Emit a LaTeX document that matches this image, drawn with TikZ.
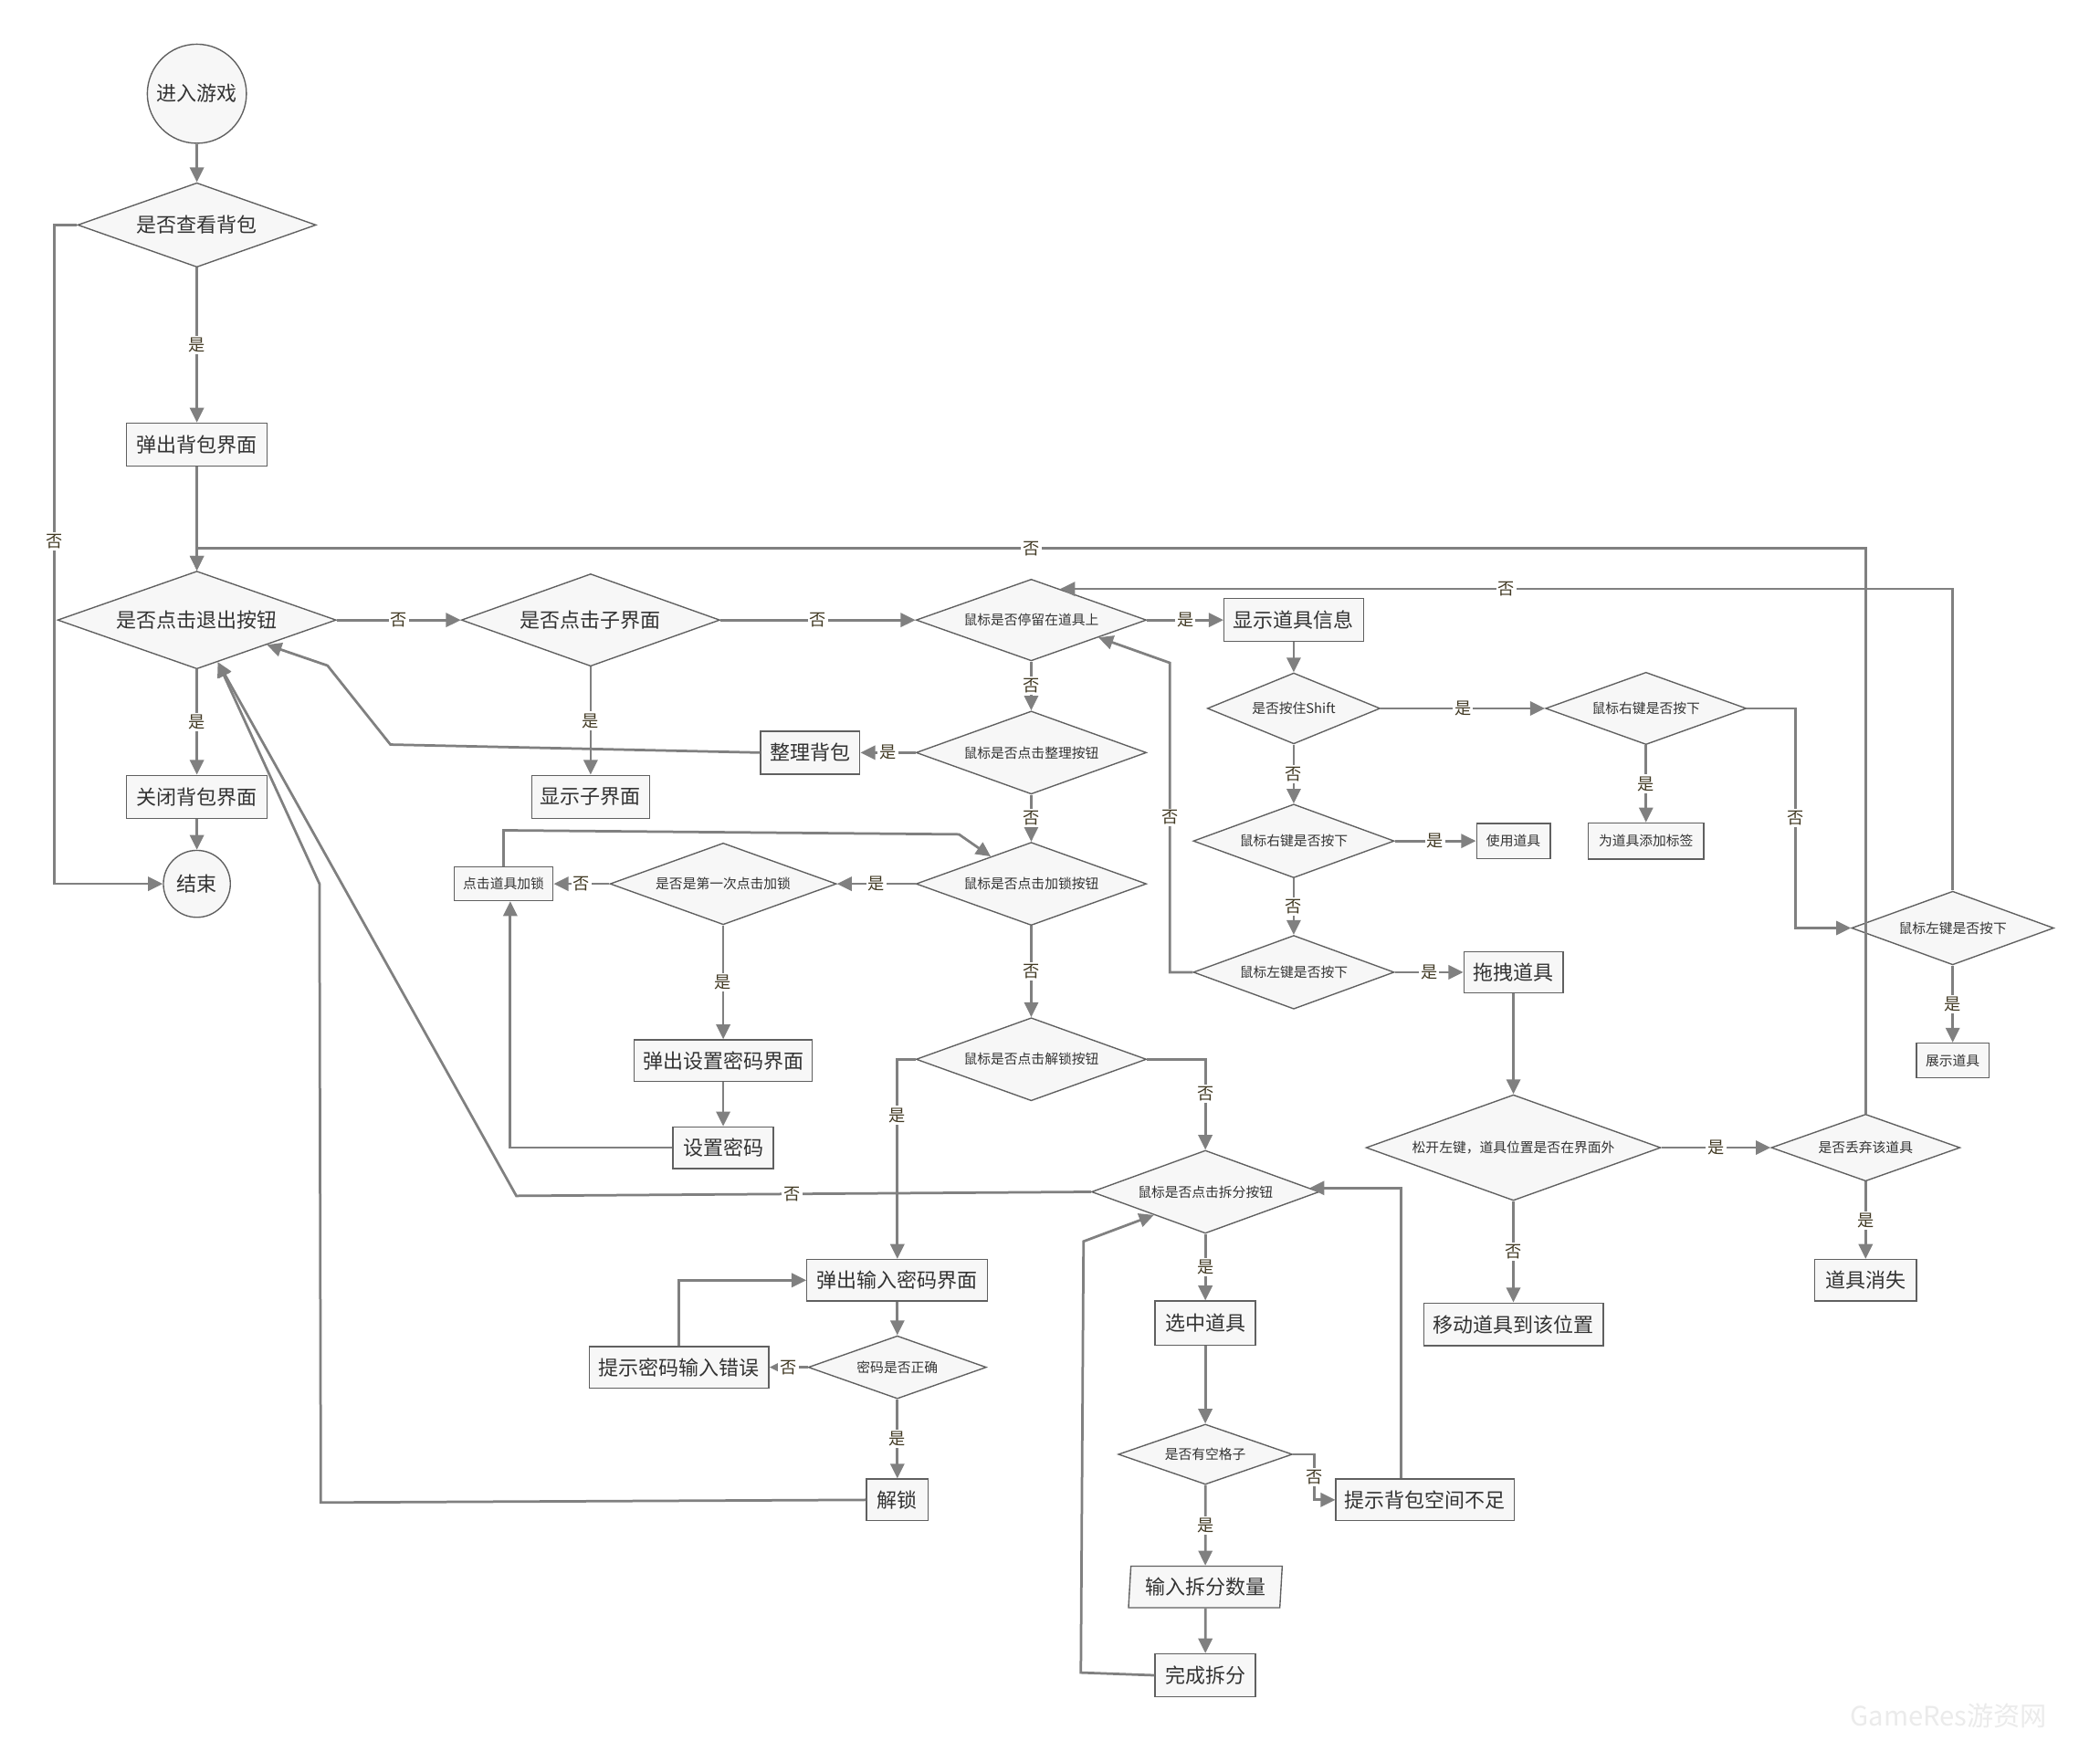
\documentclass[tikz,border=0pt]{standalone}
\usepackage{fontspec}
\setmainfont{Noto Sans CJK SC}
\usepackage{tikz}
\usetikzlibrary{positioning,arrows.meta,calc,shapes.geometric}
\definecolor{boxfill}{RGB}{247,247,247}
\definecolor{boxline}{RGB}{96,96,96}
\definecolor{wire}{RGB}{128,128,128}
\definecolor{txt}{RGB}{51,51,51}
\definecolor{lbltxt}{RGB}{66,58,36}
\newcommand{\bigfont}{\fontsize{12.8}{15}\selectfont}
\newcommand{\smallfont}{\fontsize{8.6}{10}\selectfont}
\newcommand{\lblfont}{\fontsize{10.6}{12}\selectfont}
\tikzset{
  proc/.style ={draw=boxline, fill=boxfill, text=txt, font=\bigfont, inner sep=0pt,
                line width=0.8pt, minimum height=9.3mm},
  sproc/.style={proc, font=\smallfont, minimum height=7.8mm},
  dec/.style  ={diamond, aspect=2.8, draw=boxline, fill=boxfill, text=txt, font=\smallfont,
                inner sep=0pt, line width=0.8pt},
  bdec/.style ={dec, font=\bigfont},
  term/.style ={circle, draw=boxline, fill=boxfill, text=txt, font=\bigfont, inner sep=0pt,
                line width=0.8pt},
  ar/.style   ={-{Triangle[length=3.3mm,width=3.1mm]}, draw=wire, line width=1.6pt},
  yn/.style   ={fill=white, text=lbltxt, font=\lblfont, inner sep=1.2pt},
}

\begin{document}
\begin{tikzpicture}[x=0.3mm,y=-0.3mm]
\fill[white] (0,0) rectangle (1568,1300);
\useasboundingbox (0,0) rectangle (1568,1300);

% open / close the bag
\node[term, minimum size=22.2mm] (start) at (147,70) {进入游戏};
\node[bdec, minimum width=53.4mm, minimum height=18.9mm] (bagq) at (147,168) {是否查看背包};
\node[proc, minimum width=31.5mm, minimum height=9.6mm] (popbag) at (147,332) {弹出背包界面};
\node[bdec, minimum width=62.4mm, minimum height=21.9mm] (exitq) at (147,463) {是否点击退出按钮};
\node[proc, minimum width=31.5mm, minimum height=9.6mm] (closebag) at (147,595) {关闭背包界面};
\node[term, minimum size=15mm] (stop) at (147,660) {结束};
\node[bdec, minimum width=57.9mm, minimum height=20.7mm] (subq) at (441,463) {是否点击子界面};
\node[proc, minimum width=26.4mm, minimum height=9.6mm] (showsub) at (441,595) {显示子界面};

% mouse over the bag
\node[dec, minimum width=51.6mm, minimum height=18.3mm] (hoverq) at (770,463) {鼠标是否停留在道具上};
\node[dec, minimum width=51.6mm, minimum height=18.6mm] (tidyq) at (770,562) {鼠标是否点击整理按钮};
\node[proc, minimum width=22.2mm, minimum height=9.6mm] (tidy) at (605,562) {整理背包};
\node[dec, minimum width=51.6mm, minimum height=18.6mm] (lockq) at (770,660) {鼠标是否点击加锁按钮};
\node[dec, minimum width=50.7mm, minimum height=18.3mm] (firstq) at (540,660) {是否是第一次点击加锁};
\node[sproc, minimum width=22.2mm, minimum height=7.5mm] (lockitem) at (376,660) {点击道具加锁};
\node[proc, minimum width=39.9mm] (setpwdui) at (540,792) {弹出设置密码界面};
\node[proc, minimum width=22.5mm] (setpwd) at (540,857) {设置密码};
\node[dec, minimum width=51.6mm, minimum height=18.6mm] (unlockq) at (770,791) {鼠标是否点击解锁按钮};

% unlock with password
\node[proc, minimum width=40.5mm] (inputpwdui) at (670,956) {弹出输入密码界面};
\node[dec, minimum width=39.9mm, minimum height=14.1mm] (pwdq) at (670,1021) {密码是否正确};
\node[proc, minimum width=40.2mm] (pwderr) at (507,1021) {提示密码输入错误};
\node[proc, minimum width=13.8mm] (unlock) at (670,1120) {解锁};

% split a stack
\node[dec, minimum width=51mm, minimum height=18.6mm] (splitq) at (900,890) {鼠标是否点击拆分按钮};
\node[proc, minimum width=22.5mm, minimum height=9.9mm] (pick) at (900,988) {选中道具};
\node[dec, minimum width=39mm, minimum height=13.5mm] (emptyq) at (900,1086) {是否有空格子};
\node[proc, minimum width=39.9mm] (nospace) at (1064,1120) {提示背包空间不足};
\node[proc, trapezium, trapezium left angle=84, trapezium right angle=96, trapezium stretches=true,
      minimum width=34.5mm] (splitnum) at (900,1185) {输入拆分数量};
\node[proc, minimum width=22.5mm, minimum height=9.6mm] (splitdone) at (900,1251) {完成拆分};

% item info, keys and dragging
\node[proc, minimum width=31.2mm, minimum height=9.6mm] (showinfo) at (966,463) {显示道具信息};
\node[dec, minimum width=38.7mm, minimum height=15.9mm] (shiftq) at (966,529) {是否按住Shift};
\node[dec, minimum width=45mm, minimum height=16.5mm] (rightq) at (966,628) {鼠标右键是否按下};
\node[dec, minimum width=45mm, minimum height=16.5mm] (leftq) at (966,726) {鼠标左键是否按下};
\node[sproc, minimum width=16.5mm] (useitem) at (1130,628) {使用道具};
\node[proc, minimum width=22.2mm] (drag) at (1130,726) {拖拽道具};
\node[dec, minimum width=45mm, minimum height=16.2mm] (right2q) at (1229,529) {鼠标右键是否按下};
\node[sproc, minimum width=25.8mm, minimum height=8.1mm] (addtag) at (1229,628) {为道具添加标签};
\node[dec, minimum width=45.3mm, minimum height=16.5mm] (left2q) at (1458,693) {鼠标左键是否按下};
\node[sproc, minimum width=16.2mm] (showitem) at (1458,792) {展示道具};
\node[dec, minimum width=66mm, minimum height=23.7mm] (outq) at (1130,857) {松开左键，道具位置是否在界面外};
\node[dec, minimum width=42.3mm, minimum height=15mm] (dropq) at (1393,857) {是否丢弃该道具};
\node[proc, minimum width=22.8mm] (vanish) at (1393,956) {道具消失};
\node[proc, minimum width=40.2mm, minimum height=9.6mm] (moveitem) at (1130,989) {移动道具到该位置};

\node[text=black!8, font=\fontsize{17}{20}\selectfont] (mark) at (1455,1281) {GameRes游资网};

% main column
\draw[ar] (start) -- (bagq);
\draw[ar] (bagq) -- node[yn]{是} (popbag);
\draw[ar] (bagq.west) -- ++(-17,0) |- node[yn,pos=0.24]{否} (stop.west);
\draw[ar] (popbag) -- (exitq);
\draw[ar] (dropq.north) -- ++(0,-422) -| node[yn,pos=0.25]{否} (exitq.north);
\draw[ar] (exitq) -- node[yn]{否} (subq);
\draw[ar] (exitq) -- node[yn]{是} (closebag);
\draw[ar] (closebag) -- (stop);
\draw[ar] (subq) -- node[yn]{是} (showsub);
\draw[ar] (subq) -- node[yn]{否} (hoverq);

% tidy and lock
\draw[ar] (hoverq) -- node[yn]{是} (showinfo);
\draw[ar] (hoverq) -- node[yn]{否} (tidyq);
\draw[ar] (tidyq) -- node[yn]{是} (tidy);
\draw[ar] (tidy.west) -- ++(-276,-6) -- ++(-47,-59) -- ($(exitq.east)!0.5!(exitq.south)$);
\draw[ar] (tidyq) -- node[yn]{否} (lockq);
\draw[ar] (lockq) -- node[yn]{是} (firstq);
\draw[ar] (firstq) -- node[yn]{否} (lockitem);
\draw[ar] (firstq) -- node[yn]{是} (setpwdui);
\draw[ar] (setpwdui) -- (setpwd);
\draw[ar] (setpwd.west) -| ([xshift=1.5mm]lockitem.south);
\draw[ar] (lockitem.north) -- ++(0,-27) -- ++(340,3) -- ($(lockq.west)!0.65!(lockq.north)$);
\draw[ar] (lockq) -- node[yn]{否} (unlockq);

% unlock
\draw[ar] (unlockq.west) -| node[yn,pos=0.64]{是} (inputpwdui.north);
\draw[ar] (unlockq.east) -| node[yn,pos=0.69]{否} (splitq.north);
\draw[ar] (inputpwdui) -- (pwdq);
\draw[ar] (pwdq) -- node[yn]{否} (pwderr);
\draw[ar] (pwdq) -- node[yn]{是} (unlock);
\draw[ar] (pwderr.north) |- (inputpwdui.west);
\draw[ar] (unlock.west) -- ++(-407,2) -- ++(-1,-462) -- ($(exitq.south)!0.15!(exitq.east)$);

% split
\draw[ar] (splitq.west) -- node[yn,pos=0.52]{否} ++(-429,3) -- ($(exitq.south)!0.15!(exitq.east)$);
\draw[ar] (splitq) -- node[yn]{是} (pick);
\draw[ar] (pick) -- (emptyq);
\draw[ar] (emptyq.east) -- ++(16,0) |- node[yn,pos=0.25]{否} (nospace.west);
\draw[ar] (emptyq) -- node[yn]{是} (splitnum);
\draw[ar] (splitnum) -- (splitdone);
\draw[ar] (splitdone.west) -- ++(-55,-2) -- ++(2,-322) -- ($(splitq.west)!0.55!(splitq.south)$);
\draw[ar] ([xshift=-5.4mm]nospace.north) |- ($(splitq.east)!0.09!(splitq.north)$);

% item info, keys and dragging
\draw[ar] (showinfo) -- (shiftq);
\draw[ar] (shiftq) -- node[yn]{是} (right2q);
\draw[ar] (shiftq) -- node[yn]{否} (rightq);
\draw[ar] (rightq) -- node[yn]{是} (useitem);
\draw[ar] (rightq) -- node[yn]{否} (leftq);
\draw[ar] (leftq) -- node[yn]{是} (drag);
\draw[ar] (leftq.west) -- ++(-17,0) -- node[yn]{否} ++(0,-231) -- ($(hoverq.east)!0.42!(hoverq.south)$);
\draw[ar] (right2q) -- node[yn]{是} (addtag);
\draw[ar] (right2q.east) -- ++(36,0) |- node[yn,pos=0.25]{否} (left2q.west);
\draw[ar] (left2q) -- node[yn]{是} (showitem);
\draw[ar] (left2q.north) |- node[yn,pos=0.75]{否} ($(hoverq.north)!0.25!(hoverq.east)$);
\draw[ar] (drag) -- (outq);
\draw[ar] (outq) -- node[yn]{是} (dropq);
\draw[ar] (outq) -- node[yn]{否} (moveitem);
\draw[ar] (dropq) -- node[yn]{是} (vanish);
\end{tikzpicture}
\end{document}
